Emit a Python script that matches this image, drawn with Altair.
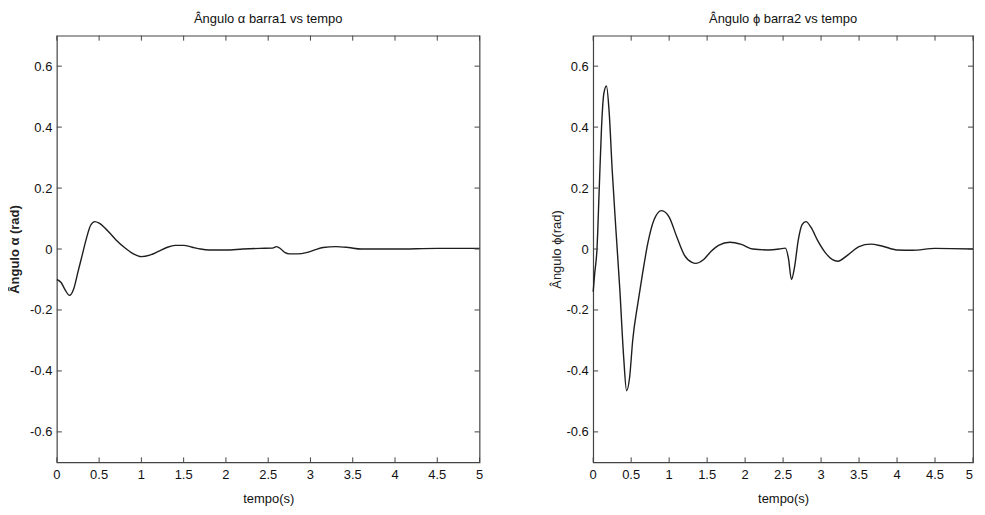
import altair as alt
import pandas as pd

# ---- data ----
t_alpha = [0, 0.05, 0.1, 0.15, 0.2, 0.25, 0.3, 0.35, 0.4, 0.45, 0.5, 0.6, 0.7, 0.8, 0.9,
           1.0, 1.1, 1.2, 1.3, 1.4, 1.5, 1.6, 1.7, 1.8, 2.0, 2.2, 2.4, 2.55, 2.6, 2.65,
           2.7, 2.75, 2.85, 2.95, 3.05, 3.15, 3.3, 3.45, 3.6, 4.0, 4.5, 5.0]
alpha = [-0.10, -0.11, -0.135, -0.152, -0.13, -0.075, -0.02, 0.035, 0.078, 0.09, 0.085,
         0.06, 0.03, 0.005, -0.015, -0.025, -0.02, -0.008, 0.005, 0.012, 0.012, 0.006,
         0.0, -0.003, -0.003, 0.0, 0.002, 0.003, 0.008, 0.0, -0.012, -0.016, -0.016,
         -0.012, -0.003, 0.005, 0.008, 0.005, 0.0, 0.0, 0.002, 0.002]

t_phi = [0, 0.02, 0.05, 0.08, 0.11, 0.14, 0.175, 0.21, 0.25, 0.3, 0.35, 0.4, 0.44, 0.48,
         0.52, 0.59, 0.65, 0.72, 0.8, 0.9, 1.0, 1.1, 1.2, 1.3, 1.35, 1.45, 1.55, 1.65,
         1.8, 1.95, 2.1, 2.3, 2.45, 2.53, 2.57, 2.61, 2.65, 2.7, 2.75, 2.8, 2.87, 2.95,
         3.05, 3.15, 3.22, 3.35, 3.5, 3.65, 3.8, 4.0, 4.2, 4.5, 5.0]
phi = [-0.14, -0.08, 0.0, 0.2, 0.4, 0.51, 0.535, 0.45, 0.26, 0.06, -0.13, -0.35, -0.465,
       -0.42, -0.3, -0.175, -0.08, 0.02, 0.095, 0.126, 0.105, 0.04, -0.02, -0.044,
       -0.047, -0.035, -0.008, 0.012, 0.022, 0.015, 0.0, -0.003, 0.0, 0.003, -0.03,
       -0.1, -0.06, 0.03, 0.08, 0.09, 0.07, 0.03, -0.01, -0.035, -0.04, -0.02, 0.008,
       0.016, 0.01, -0.003, -0.004, 0.002, 0.0]

x_ticks = [0, 0.5, 1, 1.5, 2, 2.5, 3, 3.5, 4, 4.5, 5]
x_tick_labels = ["0", "0.5", "1", "1.5", "2", "2.5", "3", "3.5", "4", "4.5", "5"]
y_ticks = [-0.6, -0.4, -0.2, 0, 0.2, 0.4, 0.6]

title_left = "Ângulo α barra1 vs tempo"
title_right = "Ângulo ϕ barra2 vs tempo"
ytitle_left = "Ângulo α (rad)"
ytitle_right = "Ângulo ϕ(rad)"
xtitle = "tempo(s)"

FONT = "Liberation Sans Narrow, Liberation Sans, Arial"
FRAME = "#444444"
LINE = "#1e1e1e"
H = 428
FS = 13


def panel(t, v, title, ytitle, ybold, w, title_x, last_right):
    df = pd.DataFrame({"t": t, "v": v})
    xsc = alt.Scale(domain=[0, 5], nice=False, zero=False)
    ysc = alt.Scale(domain=[-0.7, 0.7], nice=False, zero=False)
    line = alt.Chart(df).mark_line(color=LINE, strokeWidth=1.4, interpolate="monotone").encode(
        x=alt.X("t:Q", scale=xsc,
                axis=alt.Axis(values=x_ticks, labels=False, ticks=False,
                              domain=False, grid=False,
                              title=xtitle, titleFontSize=FS,
                              titleFontWeight="normal", titleY=36, titleBaseline="middle",
                              titleColor="#111", titleFont=FONT)),
        y=alt.Y("v:Q", scale=ysc,
                axis=alt.Axis(values=y_ticks, labelExpr="'' + datum.value", ticks=False,
                              domain=False, grid=False, labelPadding=5, labelFontSize=FS,
                              labelOverlap=False,
                              labelColor="#111", title=ytitle, titleFontSize=FS,
                              titleFontWeight="bold" if ybold else "normal",
                              titleX=title_x, titleY=H / 2, titleAngle=270,
                              titleAlign="center", titleBaseline="middle",
                              titleColor="#222", labelFont=FONT, titleFont=FONT)),
    )
    xt = pd.DataFrame({"x": x_ticks, "lab": x_tick_labels})
    yt = pd.DataFrame({"y": y_ticks})
    bot = alt.Chart(xt).mark_rule(color=FRAME, strokeWidth=1).encode(
        x=alt.X("x:Q", scale=xsc), y=alt.value(H), y2=alt.value(H - 5))
    top = alt.Chart(xt).mark_rule(color=FRAME, strokeWidth=1).encode(
        x=alt.X("x:Q", scale=xsc), y=alt.value(0), y2=alt.value(5))
    lft = alt.Chart(yt).mark_rule(color=FRAME, strokeWidth=1).encode(
        y=alt.Y("y:Q", scale=ysc), x=alt.value(0), x2=alt.value(5))
    rgt = alt.Chart(yt).mark_rule(color=FRAME, strokeWidth=1).encode(
        y=alt.Y("y:Q", scale=ysc), x=alt.value(w - 5), x2=alt.value(w))
    layers = [line, bot, top, lft, rgt]
    txt = dict(baseline="top", fontSize=FS, font=FONT, color="#111")
    if last_right:
        main = alt.Chart(xt).transform_filter("datum.x < 5").mark_text(align="center", **txt)
        last = alt.Chart(xt).transform_filter("datum.x == 5").mark_text(align="right", **txt)
        for m in (main, last):
            layers.append(m.encode(x=alt.X("x:Q", scale=xsc), y=alt.value(H + 7), text="lab:N"))
    else:
        layers.append(alt.Chart(xt).mark_text(align="center", **txt).encode(
            x=alt.X("x:Q", scale=xsc), y=alt.value(H + 7), text="lab:N"))
    return alt.layer(*layers).properties(
        width=w, height=H,
        title=alt.TitleParams(title, fontSize=FS, font=FONT, fontWeight="normal",
                              color="#111", anchor="middle", offset=9))


left = panel(t_alpha, alpha, title_left, ytitle_left, True, 424, -42, False)
right = panel(t_phi, phi, title_right, ytitle_right, False, 381, -37, True)

chart = alt.hconcat(left, right, spacing=114, bounds="flush").properties(
    padding={"left": 0, "top": 3, "right": 0, "bottom": 0},
    background="white",
).configure_view(stroke=FRAME, strokeWidth=1.2)

chart.save("out.html", embed_options={"renderer": "svg", "actions": False})
